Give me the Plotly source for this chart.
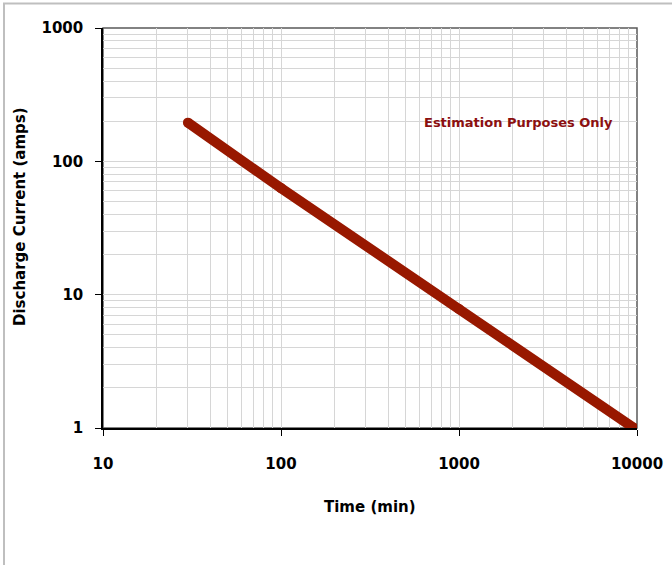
import plotly.graph_objects as go

# Data
time_min = [30, 100, 1000, 9600]
current_amps = [195, 63, 7.8, 1.0]
x_tick_vals = [10, 100, 1000, 10000]
x_tick_text = ["10", "100", "1000", "10000"]
y_tick_vals = [1, 10, 100, 1000]
y_tick_text = ["1", "10", "100", "1000"]
note_text = "Estimation Purposes Only"

LINE_COLOR = "#981800"
GRID = "#D6D6D6"
FONT = "DejaVu Sans"

x_minor = [k * 10 ** e for e in range(1, 4) for k in range(2, 10)]
y_minor = [k * 10 ** e for e in range(0, 3) for k in range(2, 10)]

fig = go.Figure()
fig.add_trace(go.Scatter(
    x=time_min, y=current_amps, mode="lines+markers",
    line=dict(color=LINE_COLOR, width=10),
    marker=dict(color=LINE_COLOR, size=10),
    showlegend=False, hoverinfo="skip",
))

W, H = 672, 565
L, R, T, B = 103, 35, 28, 137
pw, ph = W - L - R, H - T - B

def px_x(px):
    return (px - L) / pw

def px_y(py):
    return (H - B - py) / ph

axis_common = dict(
    type="log", showline=True, linecolor="black", linewidth=1.5,
    ticks="outside", ticklen=6, tickcolor="black", tickwidth=1,
    showgrid=True, gridcolor=GRID, gridwidth=1, zeroline=False,
    tickfont=dict(family=FONT, size=15, color="black", weight="bold"),
    tickmode="array",
)

fig.update_xaxes(
    **axis_common, range=[1, 4], tickvals=x_tick_vals, ticktext=x_tick_text,
    ticklabelstandoff=15,
    minor=dict(tickmode="array", tickvals=x_minor, showgrid=True,
               gridcolor=GRID, gridwidth=1, ticks=""),
)
fig.update_yaxes(
    **axis_common, range=[0, 3], tickvals=y_tick_vals, ticktext=y_tick_text,
    ticklabelstandoff=9,
    minor=dict(tickmode="array", tickvals=y_minor, showgrid=True,
               gridcolor=GRID, gridwidth=1, ticks=""),
)

# plot area border (top/right)
fig.add_shape(type="rect", xref="paper", yref="paper", x0=0, x1=1, y0=0, y1=1,
              line=dict(color="#595959", width=1.5), layer="below")
# outer chart border
fig.add_shape(type="rect", xref="paper", yref="paper",
              x0=px_x(4), x1=px_x(700), y0=px_y(600), y1=px_y(3.5),
              line=dict(color="#BFBFBF", width=2))

ann_common = dict(xref="paper", yref="paper", showarrow=False,
                  xanchor="center", yanchor="middle")
fig.add_annotation(text=note_text, x=px_x(518), y=px_y(122), **ann_common,
                   font=dict(family=FONT, size=13, color="#8B1010", weight="bold"))
fig.add_annotation(text="Time (min)", x=px_x(370), y=px_y(507), **ann_common,
                   font=dict(family=FONT, size=15, color="black", weight="bold"))
fig.add_annotation(text="Discharge Current (amps)", x=px_x(20), y=px_y(217),
                   textangle=-90, **ann_common,
                   font=dict(family=FONT, size=15, color="black", weight="bold"))

fig.update_layout(
    width=W, height=H, margin=dict(l=L, r=R, t=T, b=B, autoexpand=False),
    paper_bgcolor="white", plot_bgcolor="white",
)

fig.write_html("out.html", config={"displayModeBar": False},
               post_script="document.body.style.margin='0';document.body.style.overflow='hidden';")
